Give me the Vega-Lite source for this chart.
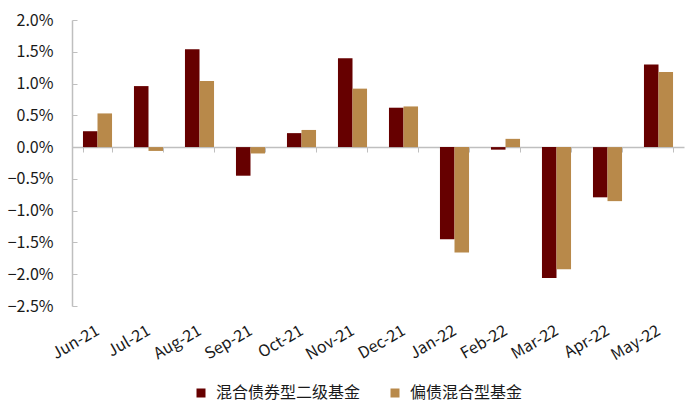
{
  "$schema": "https://vega.github.io/schema/vega-lite/v6.json",
  "width": 612,
  "height": 286,
  "autosize": "none",
  "padding": {"left": 72, "top": 20, "right": 16, "bottom": 112},
  "data": {
    "values": [
      {"month": "Jun-21", "series": "混合债券型二级基金", "value": 0.0025},
      {"month": "Jun-21", "series": "偏债混合型基金", "value": 0.0053},
      {"month": "Jul-21", "series": "混合债券型二级基金", "value": 0.0096},
      {"month": "Jul-21", "series": "偏债混合型基金", "value": -0.0006},
      {"month": "Aug-21", "series": "混合债券型二级基金", "value": 0.0154},
      {"month": "Aug-21", "series": "偏债混合型基金", "value": 0.0104},
      {"month": "Sep-21", "series": "混合债券型二级基金", "value": -0.0045},
      {"month": "Sep-21", "series": "偏债混合型基金", "value": -0.0010},
      {"month": "Oct-21", "series": "混合债券型二级基金", "value": 0.0022},
      {"month": "Oct-21", "series": "偏债混合型基金", "value": 0.0027},
      {"month": "Nov-21", "series": "混合债券型二级基金", "value": 0.0140},
      {"month": "Nov-21", "series": "偏债混合型基金", "value": 0.0092},
      {"month": "Dec-21", "series": "混合债券型二级基金", "value": 0.0062},
      {"month": "Dec-21", "series": "偏债混合型基金", "value": 0.0064},
      {"month": "Jan-22", "series": "混合债券型二级基金", "value": -0.0145},
      {"month": "Jan-22", "series": "偏债混合型基金", "value": -0.0166},
      {"month": "Feb-22", "series": "混合债券型二级基金", "value": -0.0004},
      {"month": "Feb-22", "series": "偏债混合型基金", "value": 0.0013},
      {"month": "Mar-22", "series": "混合债券型二级基金", "value": -0.0206},
      {"month": "Mar-22", "series": "偏债混合型基金", "value": -0.0192},
      {"month": "Apr-22", "series": "混合债券型二级基金", "value": -0.0079},
      {"month": "Apr-22", "series": "偏债混合型基金", "value": -0.0085},
      {"month": "May-22", "series": "混合债券型二级基金", "value": 0.0130},
      {"month": "May-22", "series": "偏债混合型基金", "value": 0.0118}
    ]
  },
  "mark": "bar",
  "encoding": {
    "x": {
      "field": "month",
      "type": "nominal",
      "sort": null,
      "scale": {"paddingInner": 0.43, "paddingOuter": 0.215},
      "axis": {
        "title": null,
        "offset": -159,
        "domainColor": "#bfbfbf",
        "domainWidth": 1.5,
        "ticks": true,
        "tickBand": "extent",
        "tickSize": 5,
        "tickColor": "#bfbfbf",
        "labelAngle": -30,
        "labelAlign": "right",
        "labelBaseline": "middle",
        "labelPadding": 177,
        "labelFont": "Noto Sans CJK SC",
        "labelFontSize": 16,
        "labelColor": "#1a1a1a",
        "labelOverlap": false
      }
    },
    "xOffset": {"field": "series", "sort": ["混合债券型二级基金", "偏债混合型基金"]},
    "y": {
      "field": "value",
      "type": "quantitative",
      "scale": {"domain": [-0.025, 0.02], "nice": false, "zero": false},
      "axis": {
        "title": null,
        "grid": false,
        "values": [-0.025, -0.02, -0.015, -0.01, -0.005, 0, 0.005, 0.01, 0.015, 0.02],
        "format": ".1%",
        "domainColor": "#bfbfbf",
        "domainWidth": 1.5,
        "tickColor": "#bfbfbf",
        "tickSize": -5,
        "labelPadding": 24,
        "labelFont": "Noto Sans CJK SC",
        "labelFontSize": 16,
        "labelColor": "#1a1a1a"
      }
    },
    "color": {
      "field": "series",
      "type": "nominal",
      "scale": {
        "domain": ["混合债券型二级基金", "偏债混合型基金"],
        "range": ["#660000", "#b8894a"]
      },
      "legend": {
        "title": null,
        "orient": "none",
        "direction": "horizontal",
        "legendX": 121,
        "legendY": 365,
        "symbolType": "square",
        "symbolSize": 81,
        "symbolStrokeWidth": 0,
        "symbolOpacity": 1,
        "labelOffset": 7,
        "columnPadding": 26,
        "labelFont": "Noto Sans CJK SC",
        "labelFontSize": 16,
        "labelColor": "#1a1a1a"
      }
    }
  },
  "config": {"view": {"stroke": null}}
}
